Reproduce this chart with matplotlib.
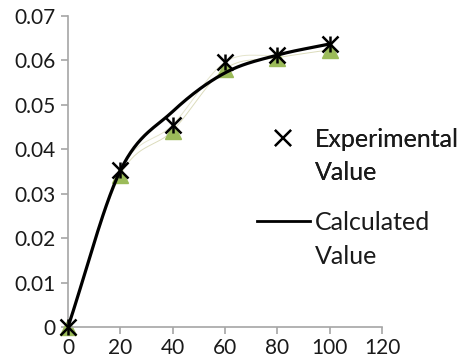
import numpy as np
import matplotlib
matplotlib.use("Agg")
import matplotlib.pyplot as plt
from matplotlib.lines import Line2D

# experimental points (X marks) and the green triangles underneath
exp_x = [0, 20, 40, 60, 80, 100]
exp_y = [0.0, 0.0354, 0.0455, 0.0596, 0.0613, 0.0637]
tri_y = [0.0, 0.0342, 0.0442, 0.0581, 0.0606, 0.0624]

# calculated curve
calc_x = [0, 20, 40, 60, 80, 100]
calc_y = [0.0, 0.0352, 0.0485, 0.0572, 0.0612, 0.0637]

xticks = [0, 20, 40, 60, 80, 100, 120]
yticks = [0, 0.01, 0.02, 0.03, 0.04, 0.05, 0.06, 0.07]
ylabels = ["0", "0.01", "0.02", "0.03", "0.04", "0.05", "0.06", "0.07"]


def smooth(x, y, n=30):
    # catmull-rom like excel's smoothed line
    x = np.asarray(x, float)
    y = np.asarray(y, float)
    px = np.concatenate([[2 * x[0] - x[1]], x, [2 * x[-1] - x[-2]]])
    py = np.concatenate([[2 * y[0] - y[1]], y, [2 * y[-1] - y[-2]]])
    ox, oy = [], []
    t = np.linspace(0, 1, n, endpoint=False)
    for i in range(1, len(px) - 2):
        for p, o in ((px, ox), (py, oy)):
            p0, p1, p2, p3 = p[i - 1], p[i], p[i + 1], p[i + 2]
            o.extend(0.5 * (2 * p1 + (-p0 + p2) * t
                            + (2 * p0 - 5 * p1 + 4 * p2 - p3) * t ** 2
                            + (-p0 + 3 * p1 - 3 * p2 + p3) * t ** 3))
    ox.append(x[-1])
    oy.append(y[-1])
    return np.array(ox), np.array(oy)


plt.rcParams['font.family'] = ['Lato', 'DejaVu Sans']
fig = plt.figure(figsize=(4.64, 3.63), dpi=100)
ax = fig.add_axes([68 / 464, 36 / 363, 314 / 464, 311 / 363])

# faint smoothed connectors
sx, sy = smooth(exp_x, tri_y)
ax.plot(sx, sy, color='#dcdcbc', lw=0.7, zorder=1)
sx, sy = smooth(exp_x, exp_y)
ax.plot(sx, sy, color='#e4e4cc', lw=0.7, zorder=1)

ax.plot(exp_x, tri_y, linestyle='none', marker='^', ms=11, color='#9bbb59',
        zorder=2, clip_on=False)
cx, cy = smooth(calc_x, calc_y)
ax.plot(cx, cy, color='black', lw=2.3, zorder=3, solid_capstyle='round')
ax.plot(exp_x, exp_y, linestyle='none', marker='x', ms=12, mew=1.8, color='black',
        zorder=4, clip_on=False)
ax.plot(exp_x, exp_y, linestyle='none', marker='|', ms=12, mew=1.8, color='black',
        zorder=4, clip_on=False)

ax.set_xlim(0, 120)
ax.set_ylim(0, 0.07)
ax.set_xticks(xticks)
ax.set_yticks(yticks)
ax.set_yticklabels(ylabels)
for s in ['top', 'right']:
    ax.spines[s].set_visible(False)
for s in ['left', 'bottom']:
    ax.spines[s].set_color('#a6a6a6')
    ax.spines[s].set_linewidth(1.2)
ax.tick_params(axis='both', colors='#a6a6a6', labelcolor='#1a1a1a', labelsize=15,
               length=5, width=1.2)
ax.tick_params(axis='x', pad=3)
ax.tick_params(axis='y', pad=4)

blank = Line2D([], [], linestyle='none')
leg_kw = dict(loc='upper left', frameon=False, fontsize=18, handlelength=2.1,
              handletextpad=0.2, labelspacing=0.42, borderpad=0, borderaxespad=0)
leg1 = fig.legend([Line2D([], [], linestyle='none', marker='x', ms=12, mew=1.6, color='black'), blank],
                  ['Experimental', 'Value'], bbox_to_anchor=(257 / 464, 1 - 128 / 363), **leg_kw)
leg2 = fig.legend([Line2D([], [], color='black', lw=2), blank],
                  ['Calculated', 'Value'], bbox_to_anchor=(257 / 464, 1 - 211 / 363), **leg_kw)
fig.add_artist(leg1)
for leg in (leg1, leg2):
    for t in leg.get_texts():
        t.set_color('#1a1a1a')

fig.savefig('out.png', dpi=100)
